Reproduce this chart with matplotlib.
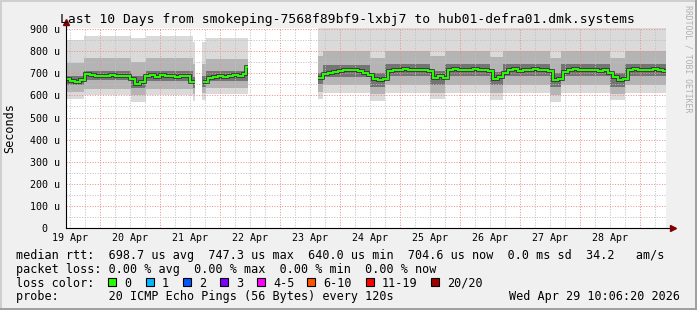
import matplotlib

matplotlib.use("Agg")
import matplotlib.pyplot as plt
import matplotlib.transforms as mtransforms
import numpy as np
from matplotlib.lines import Line2D
from matplotlib.patches import Rectangle

W, H = 697, 310
MONO = "DejaVu Sans Mono"

# x axis: hours since 19 Apr 00:00
day_labels = ["19 Apr", "20 Apr", "21 Apr", "22 Apr", "23 Apr",
              "24 Apr", "25 Apr", "26 Apr", "27 Apr", "28 Apr"]
ytick_vals = [100, 200, 300, 400, 500, 600, 700, 800, 900]

# median rtt in microseconds, step values between edges
med_a_edges = list(range(10, 64, 2))
med_a = [675, 663, 660, 668, 696, 692, 688, 690, 686, 693, 686, 690, 686,
         672, 652, 660, 688, 692, 685, 692, 688, 690, 684, 690, 687, 662]
med_b_edges = [65, 67, 69, 71, 73, 75, 77, 79, 81, 82.4, 83.2]
med_b = [660, 680, 684, 688, 684, 690, 692, 690, 696, 728]
med_c_edges = list(range(111, 251, 2)) + [250.4]
med_c = [678, 697, 700, 704, 712, 716, 713, 716, 712, 700, 694, 674, 670,
         676, 712, 716, 713, 718, 714, 717, 713, 716, 711, 680, 690, 681,
         714, 718, 713, 717, 714, 718, 713, 716, 710, 676, 682, 702, 714,
         718, 712, 716, 713, 718, 714, 717, 712, 668, 674, 706, 714, 718,
         713, 717, 714, 716, 712, 715, 703, 684, 668, 676, 714, 718, 713,
         716, 714, 718, 715, 710]

# smoke (spread of the 20 pings), per period; nan = no data
nan = float("nan")
smoke_edges = [10.4, 17.6, 36.5, 42.5, 61, 62, 64.8, 66.5, 83.1, 111, 113,
               132, 138, 156, 162, 180, 185, 204, 208.5, 228, 234, 250.4]
smoke_lo1 = [585, 600, 570, 600, 575, nan, 580, 605, nan, 585, 610, 575,
             610, 585, 612, 580, 612, 570, 612, 580, 612]
smoke_lo2 = [615, 630, 600, 630, 605, nan, 610, 635, nan, 615, 645, 605,
             645, 610, 645, 610, 645, 600, 645, 605, 645]
smoke_lo3 = [645, 668, 632, 665, 635, nan, 640, 665, nan, 650, 685, 640,
             688, 648, 688, 645, 688, 640, 688, 640, 688]
smoke_hi3 = [690, 712, 690, 712, 685, nan, 690, 712, nan, 700, 738, 700,
             740, 712, 740, 705, 740, 700, 740, 700, 740]
smoke_hi2 = [745, 770, 750, 770, 740, nan, 740, 765, nan, 780, 800, 770,
             800, 780, 800, 775, 800, 770, 800, 770, 800]
smoke_hi1 = [850, 870, 860, 870, 840, nan, 840, 860, nan, 905, 905, 905,
             905, 905, 905, 905, 905, 905, 905, 905, 905]

loss_labels = ["0", "1", "2", "3", "4-5", "6-10", "11-19", "20/20"]
loss_colors = ["#26ff00", "#00b8ff", "#0059ff", "#7e00ff", "#ff00ff",
               "#ff5500", "#ff0000", "#a10000"]

title = "Last 10 Days from smokeping-7568f89bf9-lxbj7 to hub01-defra01.dmk.systems"
legend_lines = [
    "median rtt:  698.7 us avg  747.3 us max  640.0 us min  704.6 us now  0.0 ms sd  34.2   am/s",
    "packet loss: 0.00 % avg  0.00 % max  0.00 % min  0.00 % now",
    "loss color:",
    "probe:       20 ICMP Echo Pings (56 Bytes) every 120s",
]
stamp = "Wed Apr 29 10:06:20 2026"


def fx(x):
    return x / W


def fy(y):
    return 1 - y / H


fig = plt.figure(figsize=(W / 100, H / 100), dpi=100, facecolor="#f0f0f0")
ax = fig.add_axes([fx(66), fy(228), 600 / W, 200 / H])
ax.set_facecolor("white")
ax.set_xlim(10.4, 250.4)
ax.set_ylim(0, 905)
for s in ax.spines.values():
    s.set_visible(False)

# smoke bands, outer (light) to inner (dark)
bands = [(smoke_lo1, smoke_hi1, "#dadada"),
         (smoke_lo2, smoke_hi2, "#b4b4b4"),
         (smoke_lo3, smoke_hi3, "#747474")]
for lo, hi, col in bands:
    for i in range(len(lo)):
        if np.isnan(lo[i]):
            continue
        t0, t1 = smoke_edges[i], smoke_edges[i + 1]
        ax.fill_between([t0, t1], [lo[i], lo[i]], [hi[i], hi[i]],
                        color=col, lw=0, zorder=1)

# grid (drawn over the smoke, like rrdtool)
dots = (0, (1, 1.6))
grid_kw = dict(lw=0.72, ls=dots, zorder=2)
for h in range(6, 252, 6):
    if h < 10.4 or h > 250.4:
        continue
    if h % 24 == 0:
        ax.axvline(h, color="#f28c8c", **grid_kw)
    else:
        ax.axvline(h, color="#c0c0c0", **grid_kw)
for v in range(50, 901, 50):
    if v % 100 == 0:
        ax.axhline(v, color="#f28c8c", **grid_kw)
    else:
        ax.axhline(v, color="#c0c0c0", **grid_kw)

# median line with dark halo
for vals, edges in [(med_a, med_a_edges), (med_b, med_b_edges), (med_c, med_c_edges)]:
    ax.stairs(vals, edges, baseline=None, color="#333333", lw=2.6, zorder=3)
    ax.stairs(vals, edges, baseline=None, color="#26ff00", lw=1.4, zorder=4)

# ticks / labels
ax.set_yticks(ytick_vals)
ax.set_yticklabels([f"{v} u" for v in ytick_vals], fontfamily=MONO, fontsize=7.2)
ax.set_xticks([12 + 24 * i for i in range(len(day_labels))])
ax.set_xticklabels(day_labels, fontfamily=MONO, fontsize=7.2)
ax.tick_params(axis="y", length=0, pad=4.3)
ax.tick_params(axis="x", length=0, pad=3.6)
blend = mtransforms.blended_transform_factory(ax.transAxes, ax.transData)
ax.text(-18.7 / 600, 0, "0", transform=blend, ha="right", va="center_baseline",
        fontfamily=MONO, fontsize=7.2)

# axes with arrows
ax.plot([0, 0], [0, 1 + 5 / 200], transform=ax.transAxes, color="black",
        lw=0.8, clip_on=False, zorder=5)
ax.plot([0, 1 + 5 / 600], [0, 0], transform=ax.transAxes, color="black",
        lw=0.8, clip_on=False, zorder=5)
ax.plot([0], [1 + 6 / 200], marker="^", transform=ax.transAxes, color="#7f0000",
        ms=4, clip_on=False, zorder=6)
ax.plot([1 + 7 / 600], [0], marker=">", transform=ax.transAxes, color="#7f0000",
        ms=4, clip_on=False, zorder=6)

# texts
fig.text(fx(347.5), fy(22.8), title, ha="center", va="baseline",
         fontfamily=MONO, fontsize=9.4)
fig.text(fx(10), fy(128), "Seconds", rotation=90, ha="center", va="center",
         fontfamily=MONO, fontsize=8.45)
fig.text(fx(688), fy(59), "RRDTOOL / TOBI OETIKER", rotation=-90, ha="center",
         va="center", fontfamily=MONO, fontsize=5.9, color="#b0b0b0")

baselines = [259, 272.8, 286.6, 300.3]
for line, yb in zip(legend_lines, baselines):
    fig.text(fx(16), fy(yb), line, ha="left", va="baseline",
             fontfamily=MONO, fontsize=8.45)
fig.text(fx(680), fy(300.3), stamp, ha="right", va="baseline",
         fontfamily=MONO, fontsize=8.45)

box_x = [108, 146, 183, 220, 257, 307, 366, 431]
for bx, lab, col in zip(box_x, loss_labels, loss_colors):
    fig.patches.append(Rectangle((fx(bx), fy(286)), 8 / W, 8 / H,
                                 transform=fig.transFigure, facecolor=col,
                                 edgecolor="black", lw=0.8))
    fig.text(fx(bx + 16), fy(286.6), lab, ha="left", va="baseline",
             fontfamily=MONO, fontsize=8.45)

# frame shading
fig.add_artist(Line2D([0, 1], [fy(1), fy(1)], color="#cfcfcf", lw=1.4,
                      transform=fig.transFigure))
fig.add_artist(Line2D([fx(1), fx(1)], [0, 1], color="#cfcfcf", lw=1.4,
                      transform=fig.transFigure))
fig.add_artist(Line2D([0, 1], [fy(309), fy(309)], color="#9e9e9e", lw=1.4,
                      transform=fig.transFigure))
fig.add_artist(Line2D([fx(696), fx(696)], [0, 1], color="#9e9e9e", lw=1.4,
                      transform=fig.transFigure))

fig.savefig("out.png", dpi=100, facecolor=fig.get_facecolor())
